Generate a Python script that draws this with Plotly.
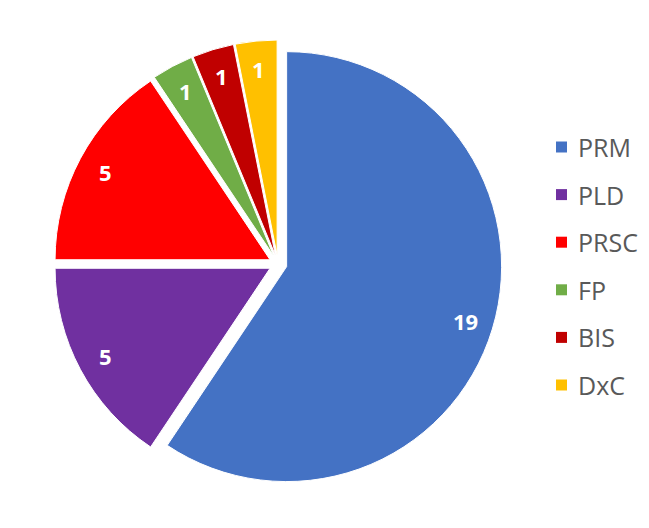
import math
import plotly.graph_objects as go

labels = ["PRM", "PLD", "PRSC", "FP", "BIS", "DxC"]
values = [19, 5, 5, 1, 1, 1]
colors = ["#4472C4", "#7030A0", "#FF0000", "#70AD47", "#C00000", "#FFC000"]

W, H = 649, 528
dom_x = [54 / W, 502 / W]
dom_y = [1 - 488 / H, 1 - 40 / H]

fig = go.Figure(go.Pie(
    labels=labels, values=values, sort=False, direction="clockwise", rotation=0,
    marker=dict(colors=colors, line=dict(color="white", width=1)),
    pull=[0.042] * len(values),
    textinfo="none",
    domain=dict(x=dom_x, y=dom_y),
    showlegend=False, hoverinfo="label+value+percent",
))

# value labels placed near the outer end of each slice (Excel style)
cx = (dom_x[0] + dom_x[1]) / 2 * W
cy = (1 - (dom_y[0] + dom_y[1]) / 2) * H
r_lab = 196
total = sum(values)
cum = 0
for v in values:
    mid = (cum + v / 2) / total * 2 * math.pi
    cum += v
    px = cx + r_lab * math.sin(mid)
    py = cy - r_lab * math.cos(mid)
    fig.add_annotation(x=px / W, y=1 - py / H, xref="paper", yref="paper",
                       text=str(v), showarrow=False, xanchor="center", yanchor="middle",
                       font=dict(family="Open Sans", size=22, color="white", weight="bold"))

# legend built from the labels/colors
y0 = 147
step = 47.6
for i, (lab, col) in enumerate(zip(labels, colors)):
    yc = y0 + i * step
    fig.add_shape(type="rect", xref="paper", yref="paper",
                  x0=556 / W, x1=567 / W,
                  y0=1 - (yc + 5.5) / H, y1=1 - (yc - 5.5) / H,
                  fillcolor=col, line=dict(width=0))
    fig.add_annotation(x=576 / W, y=1 - yc / H, xref="paper", yref="paper",
                       text=lab, showarrow=False, xanchor="left", yanchor="middle",
                       font=dict(family="Open Sans", size=25, color="#595959"))

fig.update_layout(width=W, height=H, margin=dict(l=0, r=0, t=0, b=0),
                  paper_bgcolor="white", plot_bgcolor="white")
fig.write_html("out.html", config={"displayModeBar": False},
               post_script="document.body.style.margin='0';")
